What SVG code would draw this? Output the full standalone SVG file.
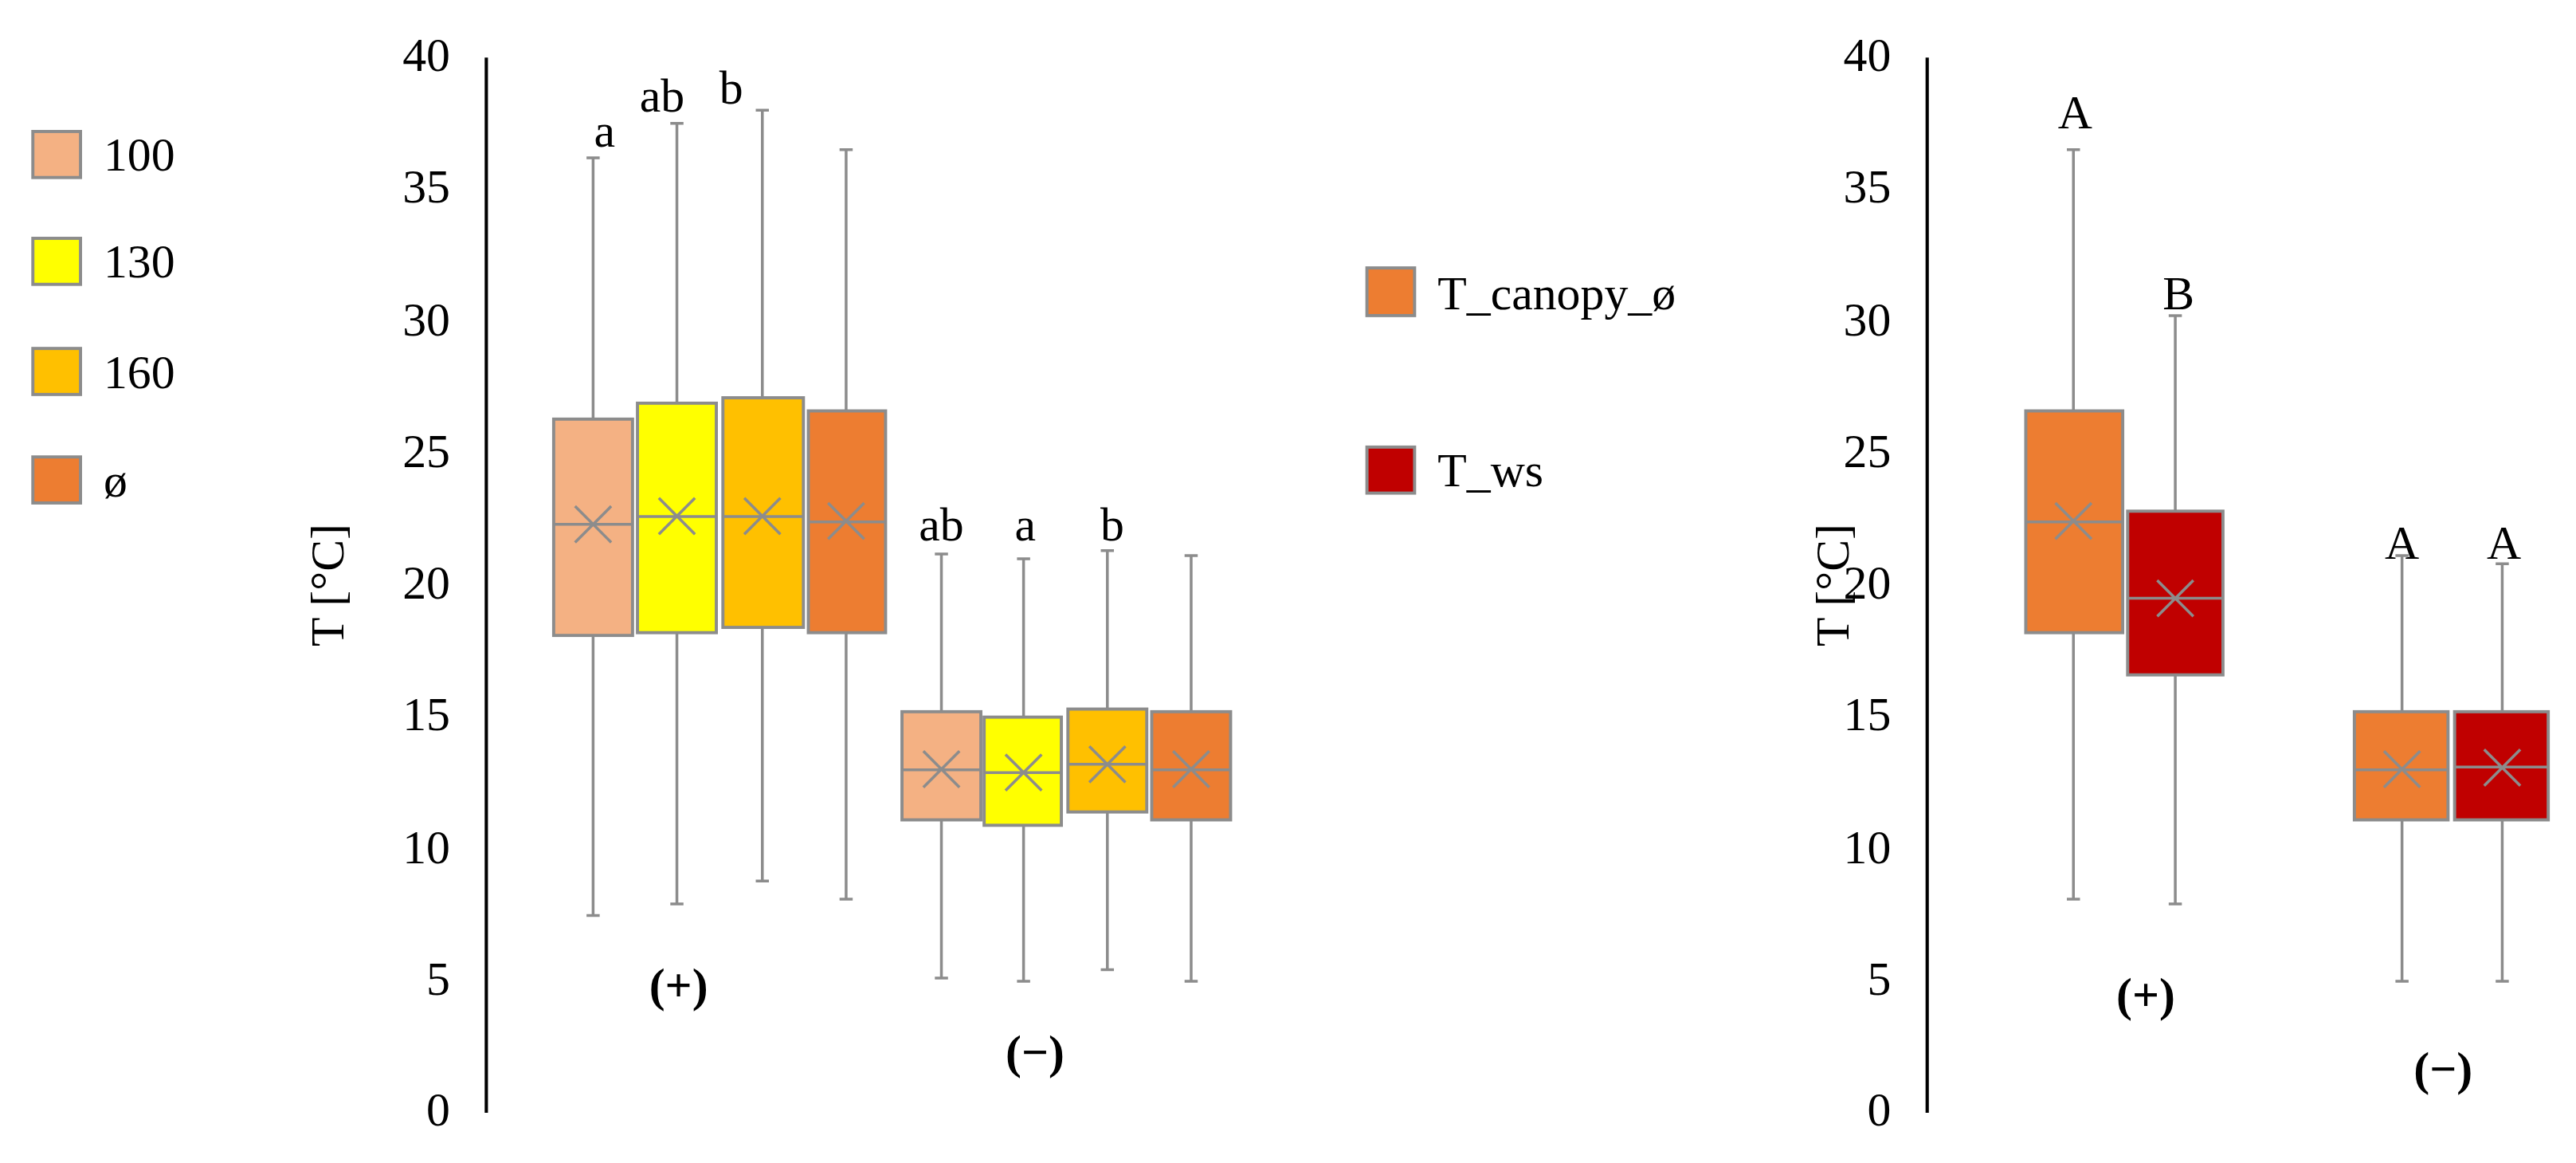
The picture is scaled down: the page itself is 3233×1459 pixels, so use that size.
<svg xmlns="http://www.w3.org/2000/svg" width="3233" height="1459" viewBox="0 0 3233 1459">
<style>
text{font-family:"Liberation Serif","Times New Roman",serif;fill:#000;font-size:29px}
.tk{text-anchor:end}
.c{text-anchor:middle}
.b{font-weight:bold;font-size:29px}
.ax{stroke:#000;stroke-width:2;fill:none}
.w{stroke:#8c8c8c;stroke-width:1.7;fill:none}
.bx{stroke:#8c8c8c;stroke-width:1.9}
.lg{stroke:#8c8c8c;stroke-width:1.9}
</style>
<rect width="3233" height="1459" fill="#fff"/>
<g transform="scale(2.062)">
<g id="left-axis">
<line class="ax" x1="296" y1="35" x2="296" y2="677"/>
<text class="tk" x="274" y="43">40</text><text class="tk" x="274" y="123">35</text><text class="tk" x="274" y="204">30</text><text class="tk" x="274" y="284">25</text><text class="tk" x="274" y="364">20</text><text class="tk" x="274" y="444">15</text><text class="tk" x="274" y="525">10</text><text class="tk" x="274" y="605">5</text><text class="tk" x="274" y="685">0</text>
<text class="c" transform="translate(209,356) rotate(-90)">T [°C]</text>
</g>
<g id="left-legend">
<rect class="lg" x="20" y="80" width="29" height="28" fill="#f4b183"/><text x="63" y="104">100</text>
<rect class="lg" x="20" y="145" width="29" height="28" fill="#ffff00"/><text x="63" y="169">130</text>
<rect class="lg" x="20" y="212" width="29" height="28" fill="#ffc000"/><text x="63" y="236">160</text>
<rect class="lg" x="20" y="278" width="29" height="28" fill="#ed7d31"/><text x="63" y="302">ø</text>
</g>
<g id="left-plus">
<path class="w" d="M361 96V557M357 96h8M357 557h8"/><rect class="bx" x="337" y="255" width="48" height="131.6" fill="#f4b183"/><path class="w" d="M337 319h48M350 308l22 22M350 330l22-22"/>
<path class="w" d="M412 75V550M408 75h8M408 550h8"/><rect class="bx" x="388" y="245.3" width="48" height="139.6" fill="#ffff00"/><path class="w" d="M388 314.3h48M401 303l22 22M401 325l22-22"/>
<path class="w" d="M464 67V536M460 67h8M460 536h8"/><rect class="bx" x="440" y="242" width="49" height="139.7" fill="#ffc000"/><path class="w" d="M440 314.3h49M453 303l22 22M453 325l22-22"/>
<path class="w" d="M515 91V547M511 91h8M511 547h8"/><rect class="bx" x="492" y="250" width="47" height="134.9" fill="#ed7d31"/><path class="w" d="M492 317.5h47M504 306l22 22M504 328l22-22"/>
<text x="368" y="89" class="c">a</text><text x="403" y="68" class="c">ab</text><text x="445" y="63" class="c">b</text>
<text class="c b" x="413" y="609">(+)</text>
</g>
<g id="left-minus">
<path class="w" d="M573 337V595M569 337h8M569 595h8"/><rect class="bx" x="549" y="433" width="48" height="65.8" fill="#f4b183"/><path class="w" d="M549 468.4h48M562 457l22 22M562 479l22-22"/>
<path class="w" d="M623 340V597M619 340h8M619 597h8"/><rect class="bx" x="599" y="436.3" width="47" height="65.8" fill="#ffff00"/><path class="w" d="M599 470h47M612 459l22 22M612 481l22-22"/>
<path class="w" d="M674 335V590M670 335h8M670 590h8"/><rect class="bx" x="650" y="431.4" width="48" height="62.6" fill="#ffc000"/><path class="w" d="M650 465h48M663 454l22 22M663 476l22-22"/>
<path class="w" d="M725 338V597M721 338h8M721 597h8"/><rect class="bx" x="701" y="433" width="48" height="65.8" fill="#ed7d31"/><path class="w" d="M701 468.4h48M714 457l22 22M714 479l22-22"/>
<text x="573" y="329" class="c">ab</text><text x="624" y="329" class="c">a</text><text x="677" y="329" class="c">b</text>
<text class="c b" x="630" y="650">(−)</text>
</g>
<g id="right-axis">
<line class="ax" x1="1173" y1="35" x2="1173" y2="677"/>
<text class="tk" x="1151" y="43">40</text><text class="tk" x="1151" y="123">35</text><text class="tk" x="1151" y="204">30</text><text class="tk" x="1151" y="284">25</text><text class="tk" x="1151" y="364">20</text><text class="tk" x="1151" y="444">15</text><text class="tk" x="1151" y="525">10</text><text class="tk" x="1151" y="605">5</text><text class="tk" x="1151" y="685">0</text>
<text class="c" transform="translate(1125,356) rotate(-90)">T [°C]</text>
</g>
<g id="right-legend">
<rect class="lg" x="832" y="163" width="29" height="29" fill="#ed7d31"/><text x="875" y="188">T_canopy_ø</text>
<rect class="lg" x="832" y="272" width="29" height="28" fill="#c00000"/><text x="875" y="296">T_ws</text>
</g>
<g id="right-plus">
<path class="w" d="M1262 91V547M1258 91h8M1258 547h8"/><rect class="bx" x="1233" y="250" width="59" height="134.9" fill="#ed7d31"/><path class="w" d="M1233 317.5h59M1251 306l22 22M1251 328l22-22"/>
<path class="w" d="M1324 192V550M1320 192h8M1320 550h8"/><rect class="bx" x="1295" y="311" width="58" height="99.6" fill="#c00000"/><path class="w" d="M1295 364h58M1313 353l22 22M1313 375l22-22"/>
<text x="1263" y="78" class="c">A</text><text x="1326" y="188" class="c">B</text>
<text class="c b" x="1306" y="615">(+)</text>
</g>
<g id="right-minus">
<path class="w" d="M1462 338V597M1458 338h8M1458 597h8"/><rect class="bx" x="1433" y="433" width="57" height="65.8" fill="#ed7d31"/><path class="w" d="M1433 468.4h57M1451 457l22 22M1451 479l22-22"/>
<path class="w" d="M1523 343V597M1519 343h8M1519 597h8"/><rect class="bx" x="1494" y="433" width="57" height="65.8" fill="#c00000"/><path class="w" d="M1494 466.7h57M1512 456l22 22M1512 478l22-22"/>
<text x="1462" y="340" class="c">A</text><text x="1524" y="340" class="c">A</text>
<text class="c b" x="1487" y="660">(−)</text>
</g>
</g>
</svg>
